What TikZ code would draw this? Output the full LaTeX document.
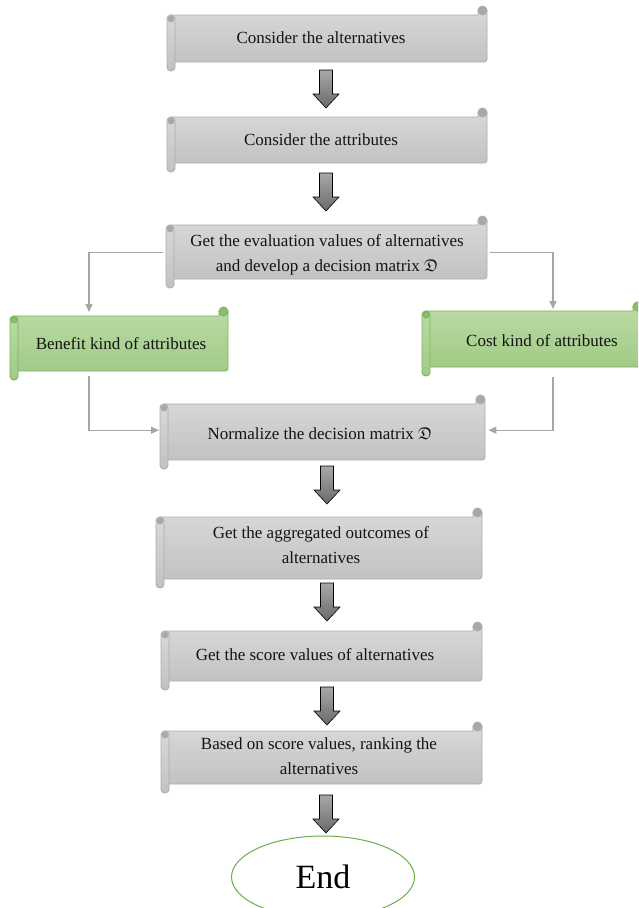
\documentclass[tikz,border=0pt]{standalone}
\usepackage{amssymb}
\usepackage{fontspec}
\setmainfont{Liberation Serif}
\usetikzlibrary{arrows.meta,shapes.geometric}
\definecolor{gtop}{HTML}{D8D8D8}
\definecolor{gbot}{HTML}{C2C2C2}
\definecolor{gline}{HTML}{ADADAD}
\definecolor{gcurl}{HTML}{A8A8A8}
\definecolor{ntop}{HTML}{BADBA5}
\definecolor{nbot}{HTML}{A2CA86}
\definecolor{nline}{HTML}{7AB55A}
\definecolor{ncurl}{HTML}{8DBD6F}
\definecolor{conncol}{HTML}{A6A6A6}
\definecolor{arrtop}{HTML}{A8A8A8}
\definecolor{arrbot}{HTML}{6A6A6A}
\definecolor{endcol}{HTML}{70AD47}
\tikzset{
  graybody/.style={top color=gtop,bottom color=gbot,draw=gline,line width=0.9pt},
  graycurl/.style={fill=gcurl,draw=gline,line width=0.9pt},
  greenbody/.style={top color=ntop,bottom color=nbot,draw=nline,line width=0.9pt},
  greencurl/.style={fill=ncurl,draw=nline,line width=0.9pt},
  bodyframe/.style={draw=none,inner sep=0pt,anchor=north west},
  txt/.style={font=\fontsize{17}{25}\selectfont,align=center,text=black!92,inner sep=0pt},
  conn/.style={draw=conncol,line width=1.4pt,-{Triangle[length=8pt,width=7pt]}},
  blockarrow/.style={top color=arrtop,bottom color=arrbot,draw=black,line width=0.6pt},
  endnode/.style={ellipse,draw=endcol,line width=1pt,fill=white,minimum width=183pt,minimum height=82pt,font=\fontsize{34}{38}\selectfont,inner sep=0pt},
}
% #1 name, #2 L, #3 T, #4 R, #5 B, #6 colour prefix
\newcommand\scrollbox[6]{%
  \node[bodyframe,minimum width={#4-(#2)},minimum height={#5-(#3)}] (#1) at (#2,#3) {};
  \path[#6body] (#2+4,#3) -- (#4-9,#3) -- (#4-9,#3-4.5) -- (#4,#3-4.5)
     [rounded corners=3pt] -- (#4,#5) -- (#2+4,#5) [sharp corners] -- cycle;
  \path[#6curl] (#4-4.5,#3-4.5) circle[radius=4.5pt];
  \path[#6body,rounded corners=3.8pt] (#2,#3) rectangle (#2+8,#5+9);
  \path[#6curl] (#2+4,#3+4) circle[radius=3pt];
}
\newcommand\blockarrow[2]{%
  \path[blockarrow] (#1-6.5,#2) -- (#1+6.5,#2) -- (#1+6.5,#2+24) -- (#1+13,#2+24)
     -- (#1,#2+38) -- (#1-13,#2+24) -- (#1-6.5,#2+24) -- cycle;
}
\begin{document}
\begin{tikzpicture}[x=1pt,y=-1pt]
\clip (0,0) rectangle (638,908);
\fill[white] (0,0) rectangle (638,908);

\scrollbox{b1}{167}{15}{487}{62}{gray}
\node[txt] (t1) at (321,38) {Consider the alternatives};
\scrollbox{b2}{167}{117}{487}{163}{gray}
\node[txt] (t2) at (321,140) {Consider the attributes};
\scrollbox{b3}{166}{225}{487}{279}{gray}
\node[txt] (t3) at (327,255) {Get the evaluation values of alternatives\\and develop a decision matrix $\mathfrak{D}$};
\scrollbox{ben}{10}{316}{228}{371}{green}
\node[txt] (tben) at (121,344) {Benefit kind of attributes};
\scrollbox{cost}{422}{311}{642}{367}{green}
\node[txt] (tcost) at (542,341) {Cost kind of attributes};
\scrollbox{b6}{160}{404}{485}{460}{gray}
\node[txt] (t6) at (320,434) {Normalize the decision matrix $\mathfrak{D}$};
\scrollbox{b7}{156}{517}{482}{579}{gray}
\node[txt] (t7) at (321,545) {Get the aggregated outcomes of\\alternatives};
\scrollbox{b8}{161}{631}{482}{681}{gray}
\node[txt] (t8) at (315,655) {Get the score values of alternatives};
\scrollbox{b9}{161}{731}{482}{784}{gray}
\node[txt] (t9) at (319,756) {Based on score values, ranking the\\alternatives};
\node[endnode] (end) at (323,877) {End};

\blockarrow{326}{70}
\blockarrow{326}{173}
\blockarrow{327}{466}
\blockarrow{327}{583}
\blockarrow{327}{687}
\blockarrow{326}{795}

\draw[conn] ([xshift=-3pt]b3.west) -| ([xshift=79pt,yshift=4pt]ben.north west);
\draw[conn] ([xshift=3pt]b3.east) -| ([xshift=131pt,yshift=2pt]cost.north west);
\draw[conn] ([xshift=79pt,yshift=-5pt]ben.south west) |- ([xshift=-1pt,yshift=2pt]b6.west);
\draw[conn] ([xshift=131pt,yshift=-10pt]cost.south west) |- ([xshift=3pt,yshift=2pt]b6.east);
\end{tikzpicture}
\end{document}
